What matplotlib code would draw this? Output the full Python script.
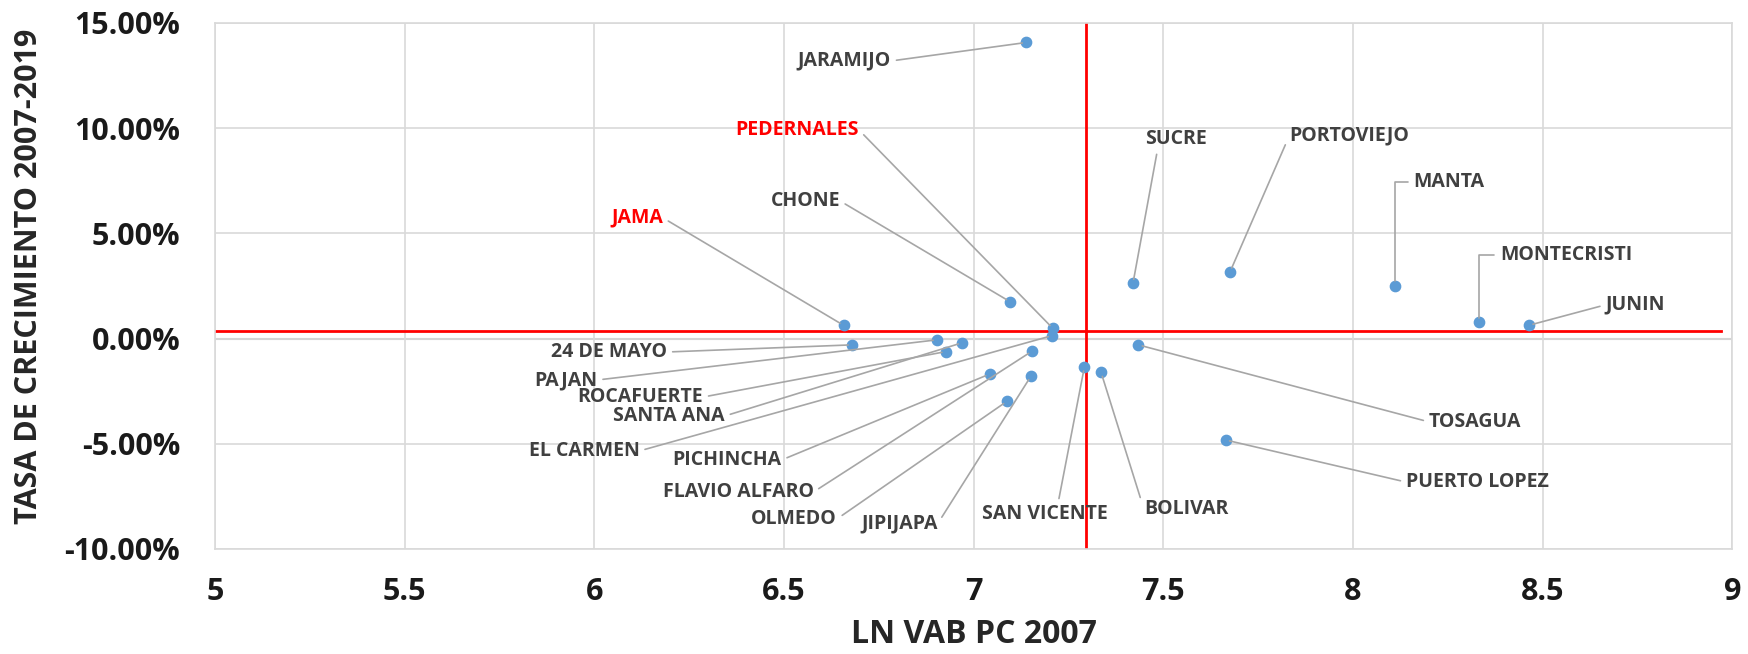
import matplotlib
matplotlib.use("Agg")
import matplotlib.pyplot as plt
from matplotlib.ticker import MultipleLocator, FuncFormatter

plt.rcParams['font.family'] = ['Open Sans', 'DejaVu Sans']
plt.rcParams['axes.unicode_minus'] = False

# cantones de Manabi
names = ['JARAMIJO', 'PEDERNALES', 'JAMA', 'CHONE', 'SUCRE', 'PORTOVIEJO',
         'MANTA', 'MONTECRISTI', 'JUNIN', 'TOSAGUA', 'PUERTO LOPEZ', 'BOLIVAR',
         'SAN VICENTE', 'JIPIJAPA', 'OLMEDO', 'FLAVIO ALFARO', 'PICHINCHA',
         'EL CARMEN', 'SANTA ANA', 'ROCAFUERTE', 'PAJAN', '24 DE MAYO']
ln_vab = [7.139, 7.209, 6.657, 7.096, 7.420, 7.676,
          8.110, 8.331, 8.464, 7.434, 7.664, 7.336,
          7.292, 7.151, 7.088, 7.154, 7.042,
          7.207, 6.970, 6.927, 6.904, 6.680]
tasa = [14.07, 0.48, 0.63, 1.75, 2.62, 3.17,
        2.52, 0.79, 0.63, -0.30, -4.82, -1.61,
        -1.35, -1.79, -2.98, -0.60, -1.69,
        0.14, -0.20, -0.62, -0.06, -0.30]

# promedios (lineas rojas)
mean_x = 7.295
mean_y = 0.38

# where each label sits (data coords)
label_xy = {
    'JARAMIJO': (6.659, 13.19), 'PEDERNALES': (6.535, 9.91), 'JAMA': (6.113, 5.73),
    'CHONE': (6.556, 6.54), 'SUCRE': (7.534, 9.49), 'PORTOVIEJO': (7.99, 9.63),
    'MANTA': (8.254, 7.44), 'MONTECRISTI': (8.562, 3.97), 'JUNIN': (8.744, 1.60),
    'TOSAGUA': (8.322, -3.96), 'PUERTO LOPEZ': (8.328, -6.82), 'BOLIVAR': (7.56, -8.10),
    'SAN VICENTE': (7.189, -8.34), 'JIPIJAPA': (6.804, -8.81), 'OLMEDO': (6.527, -8.57),
    'FLAVIO ALFARO': (6.379, -7.29), 'PICHINCHA': (6.35, -5.77), 'EL CARMEN': (5.973, -5.34),
    'SANTA ANA': (6.197, -3.68), 'ROCAFUERTE': (6.121, -2.78), 'PAJAN': (5.925, -1.97),
    '24 DE MAYO': (6.039, -0.64),
}
red_labels = ['JAMA', 'PEDERNALES']
relpos_special = {'SUCRE': (0.2, 0.0), 'SAN VICENTE': (0.6, 1.0)}
elbow_labels = ['MANTA', 'MONTECRISTI']

fig = plt.figure(figsize=(17.48, 6.54), dpi=100)
ax = fig.add_axes([0.123, 0.1606, 0.991 - 0.123, 0.965 - 0.1606])

ax.set_xlim(5, 9)
ax.set_ylim(-10, 15)
ax.xaxis.set_major_locator(MultipleLocator(0.5))
ax.yaxis.set_major_locator(MultipleLocator(5))
ax.xaxis.set_major_formatter(FuncFormatter(lambda v, p: '%g' % v))
ax.yaxis.set_major_formatter(FuncFormatter(lambda v, p: '%.2f%%' % v))
ax.grid(True, color='#d9d9d9', linewidth=1.2)
ax.set_axisbelow(True)
for s in ax.spines.values():
    s.set_color('#d9d9d9')
    s.set_linewidth(1.2)
ax.axhline(0, color='#bfbfbf', linewidth=1.5, zorder=0.5)
ax.tick_params(axis='both', length=0, labelsize=22, colors='#1a1a1a')
ax.tick_params(axis='y', pad=25)
ax.tick_params(axis='x', pad=20)
for t in ax.get_xticklabels() + ax.get_yticklabels():
    t.set_fontweight('bold')

ax.plot([5, 8.97], [mean_y, mean_y], color='red', linewidth=2, zorder=2)
ax.plot([mean_x, mean_x], [-10, 15], color='red', linewidth=2, zorder=2)

ax.scatter(ln_vab, tasa, s=55, color='#5b9bd5', zorder=3)

for n, x, y in zip(names, ln_vab, tasa):
    tx, ty = label_xy[n]
    rp = relpos_special.get(n, (1, 0.5) if tx < x else (0, 0.5))
    cs = 'angle,angleA=0,angleB=90,rad=0' if n in elbow_labels else 'arc3'
    ax.annotate(n, xy=(x, y), xytext=(tx, ty), ha='center', va='center',
                fontsize=14, fontweight='bold',
                color='red' if n in red_labels else '#404040',
                arrowprops=dict(arrowstyle='-', color='#a6a6a6', lw=1.2,
                                relpos=rp, shrinkA=2, shrinkB=3,
                                connectionstyle=cs))

ax.set_xlabel('LN VAB PC 2007', fontsize=23, fontweight='bold', color='#262626', va='center')
ax.xaxis.set_label_coords(0.5, -0.1635)
ax.set_ylabel('TASA DE CRECIMIENTO 2007-2019', fontsize=22, fontweight='bold', color='#262626', va='center')
ax.yaxis.set_label_coords(-0.1225, 0.519)

fig.savefig('out.png', dpi=100)
